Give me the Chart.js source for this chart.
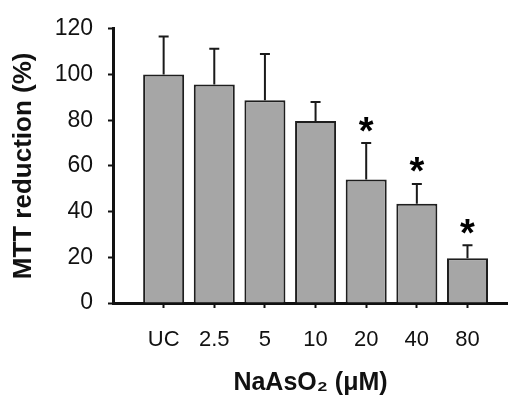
<!DOCTYPE html>
<html>
<head>
<meta charset="utf-8">
<script src="https://cdn.jsdelivr.net/npm/chart.js@4"></script>
<style>
  html, body { margin: 0; padding: 0; background: #fff; }
  #wrap { width: 508px; height: 395px; }
</style>
</head>
<body>
<div id="wrap"><canvas id="chart" width="508" height="395"></canvas></div>
<script>
// Data
const doses = ['UC', '2.5', '5', '10', '20', '40', '80'];
const meanValues = [100, 95.6, 88.7, 79.6, 54.1, 43.4, 19.6];
const sdValues = [16.6, 15.7, 20.3, 8.4, 15.9, 8.7, 5.7];
const significant = [false, false, false, false, true, true, true];
const yTicks = [0, 20, 40, 60, 80, 100, 120];

const FONT = '"Liberation Sans", Arial, Helvetica, sans-serif';
const INK = '#111';

// Upward error bars plus significance stars
const errorBars = {
    id: 'errorBars',
    afterDatasetsDraw(chart) {
        const { ctx, scales: { x, y } } = chart;
        ctx.save();
        ctx.strokeStyle = '#1a1a1a';
        ctx.lineWidth = 2;
        meanValues.forEach((v, i) => {
            const px = x.getPixelForValue(i);
            const base = y.getPixelForValue(v);
            const top = y.getPixelForValue(v + sdValues[i]);
            ctx.beginPath();
            ctx.moveTo(px, base);
            ctx.lineTo(px, top);
            ctx.moveTo(px - 5, top);
            ctx.lineTo(px + 5, top);
            ctx.stroke();
        });

        ctx.fillStyle = '#000';
        ctx.font = 'bold 38px ' + FONT;
        ctx.textAlign = 'center';
        ctx.textBaseline = 'alphabetic';
        const m = ctx.measureText('*');
        const mid = (m.actualBoundingBoxAscent - m.actualBoundingBoxDescent) / 2;
        significant.forEach((sig, i) => {
            if (!sig) return;
            const px = x.getPixelForValue(i);
            const top = y.getPixelForValue(meanValues[i] + sdValues[i]);
            ctx.fillText('*', px, top - 19 + mid);
        });
        ctx.restore();
    }
};

new Chart(document.getElementById('chart'), {
    type: 'bar',
    data: {
        datasets: [{
            data: meanValues.map((v, i) => ({ x: i, y: v })),
            backgroundColor: '#a6a6a6',
            borderColor: '#1e1e1e',
            borderWidth: 2,
            barPercentage: 0.81,
            categoryPercentage: 1
        }]
    },
    options: {
        responsive: false,
        animation: false,
        layout: { padding: { top: 23, right: 0, bottom: 0, left: 0 } },
        plugins: {
            legend: { display: false },
            tooltip: { enabled: false }
        },
        scales: {
            x: {
                type: 'linear',
                min: -1,
                max: 6.8,
                offset: false,
                afterBuildTicks(scale) {
                    scale.ticks = doses.map((d, i) => ({ value: i }));
                },
                afterFit(scale) {
                    scale.height = 92;
                },
                ticks: {
                    callback: (v) => doses[v] ?? '',
                    color: INK,
                    font: { family: FONT, size: 22 },
                    padding: 19,
                    maxRotation: 0,
                    autoSkip: false
                },
                grid: {
                    display: true,
                    drawOnChartArea: false,
                    offset: false,
                    tickLength: 5,
                    tickWidth: 2,
                    tickColor: INK
                },
                border: { display: true, color: INK, width: 3 },
                title: {
                    display: true,
                    text: 'NaAsO₂ (μM)',
                    color: INK,
                    font: { family: FONT, size: 25, weight: 'bold', lineHeight: 1 },
                    padding: { top: 0, bottom: -1 }
                }
            },
            y: {
                min: 0,
                max: 120,
                afterBuildTicks(scale) {
                    scale.ticks = yTicks.map(v => ({ value: v }));
                },
                afterFit(scale) {
                    scale.width = 113;
                },
                ticks: {
                    color: INK,
                    font: { family: FONT, size: 23 },
                    padding: 15
                },
                grid: {
                    display: true,
                    drawOnChartArea: false,
                    tickLength: 5,
                    tickWidth: 2,
                    tickColor: INK
                },
                border: { display: true, color: INK, width: 3 },
                title: {
                    display: true,
                    text: 'MTT reduction (%)',
                    color: INK,
                    font: { family: FONT, size: 26, weight: 'bold' },
                    padding: { top: 8, bottom: 0 }
                }
            }
        }
    },
    plugins: [errorBars]
});
</script>
</body>
</html>
